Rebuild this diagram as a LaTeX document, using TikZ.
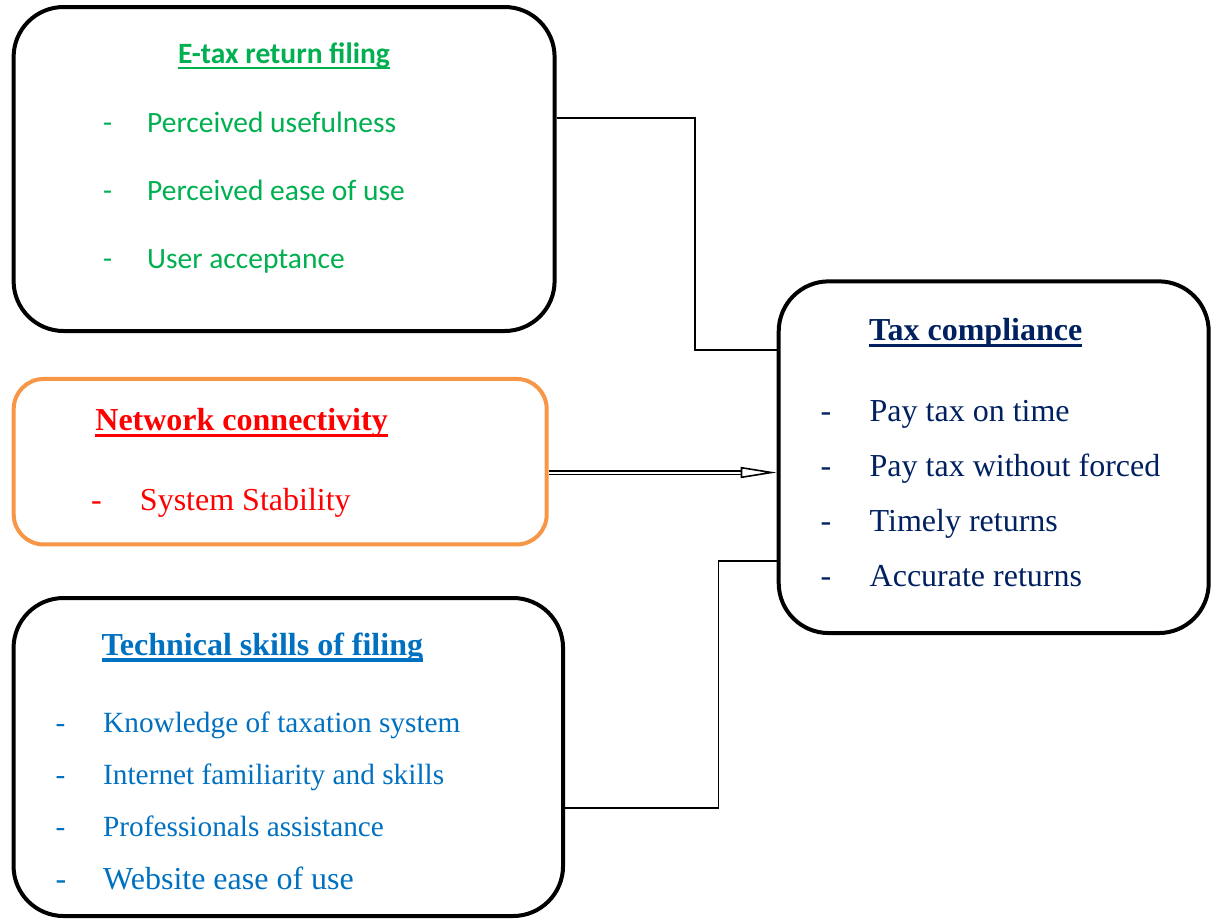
\documentclass[tikz,border=0pt]{standalone}
\usepackage{fontspec}
\setmainfont{Liberation Serif}
\newfontfamily\calibrifont{Carlito}
\usetikzlibrary{arrows.meta,positioning}
\definecolor{etaxgreen}{HTML}{00B050}
\definecolor{netorange}{HTML}{F79646}
\definecolor{netred}{HTML}{FF0000}
\definecolor{taxnavy}{HTML}{002060}
\definecolor{skillblue}{HTML}{0070C0}
% underlined heading: text, depth of rule, thickness of rule
\newcommand{\headline}[3]{\setbox0=\hbox{#1}\rlap{\usebox0}\rule[-#2]{\wd0}{#3}}

\begin{document}
\begin{tikzpicture}[
    x=1pt, y=-1pt,
    panel/.style={draw, line width=4pt, inner sep=0pt, rounded corners=#1},
    serif/.style={anchor=base west, inner sep=0pt, font=\fontsize{32}{38}\selectfont},
    serifsmall/.style={anchor=base west, inner sep=0pt, font=\fontsize{29.3}{35}\selectfont},
    calibri/.style={anchor=base west, inner sep=0pt, font=\calibrifont\fontsize{29.5}{35}\selectfont},
    link/.style={line width=1.6pt},
    dblarrow/.style={double, double distance=2pt, line width=1.5pt,
        -{Triangle[open, length=36pt, width=11pt, line width=1.6pt]}}
]
\useasboundingbox (0,0) rectangle (1217,919);

% Boxes
\node[panel=50pt, minimum width=541pt, minimum height=324pt] (etax) at (284.1,169) {};
\node[panel=30pt, draw=netorange, minimum width=533pt, minimum height=165.5pt] (netw) at (280.2,461.7) {};
\node[panel=50pt, minimum width=549.5pt, minimum height=318pt] (skill) at (288.3,757) {};
\node[panel=50pt, minimum width=430pt, minimum height=351.7pt] (tax) at (993.7,457.2) {};

% E-tax return filing
\node[calibri, anchor=base, etaxgreen] (etaxhead) at (284,63.3) {\headline{\bfseries E-tax return filing}{5.7pt}{2.3pt}};
\node[calibri, etaxgreen] (etax1) at (103,132) {\makebox[44pt][l]{-}Perceived usefulness};
\node[calibri, etaxgreen] (etax2) at (103,200) {\makebox[44pt][l]{-}Perceived ease of use};
\node[calibri, etaxgreen] (etax3) at (103,268) {\makebox[44pt][l]{-}User acceptance};

% Network connectivity
\node[serif, netred] (netwhead) at (95.2,430.7) {\headline{\bfseries Network connectivity}{6.5pt}{3.3pt}};
\node[serif, netred] (netw1) at (90.8,510) {\makebox[49pt][l]{-}System Stability};

% Technical skills of filing
\node[serif, skillblue] (skillhead) at (101.3,655) {\headline{\bfseries Technical skills of filing}{6.5pt}{3.3pt}};
\node[serifsmall, skillblue] (skill1) at (55.5,732.7) {\makebox[47.5pt][l]{-}Knowledge of taxation system};
\node[serifsmall, skillblue] (skill2) at (55.5,784) {\makebox[47.5pt][l]{-}Internet familiarity and skills};
\node[serifsmall, skillblue] (skill3) at (55.5,836.7) {\makebox[47.5pt][l]{-}Professionals assistance};
\node[serif, skillblue] (skill4) at (55.5,889.3) {\makebox[47.5pt][l]{-}Website ease of use};

% Tax compliance
\node[serif, taxnavy] (taxhead) at (869,340.7) {\headline{\bfseries Tax compliance}{6.5pt}{3.3pt}};
\node[serif, taxnavy] (tax1) at (820.5,421.7) {\makebox[49pt][l]{-}Pay tax on time};
\node[serif, taxnavy] (tax2) at (820.5,476.7) {\makebox[49pt][l]{-}Pay tax without forced};
\node[serif, taxnavy] (tax3) at (820.5,531.7) {\makebox[49pt][l]{-}Timely returns};
\node[serif, taxnavy] (tax4) at (820.5,586) {\makebox[49pt][l]{-}Accurate returns};

% Connectors
\coordinate (bendA) at (695,117.7);
\coordinate (bendB) at (695,350);
\coordinate (bendC) at (718.3,807.7);
\coordinate (bendD) at (718.3,560.7);
\coordinate (mid) at (660,472.5);
\draw[link] (etax.east |- bendA) -- (bendA) -- (bendB) -- (bendB -| tax.west);
\draw[link] (skill.east |- bendC) -- (bendC) -- (bendD) -- (bendD -| tax.west);
\draw[dblarrow] (netw.east |- mid) -- (tax.west |- mid);

\end{tikzpicture}
\end{document}
